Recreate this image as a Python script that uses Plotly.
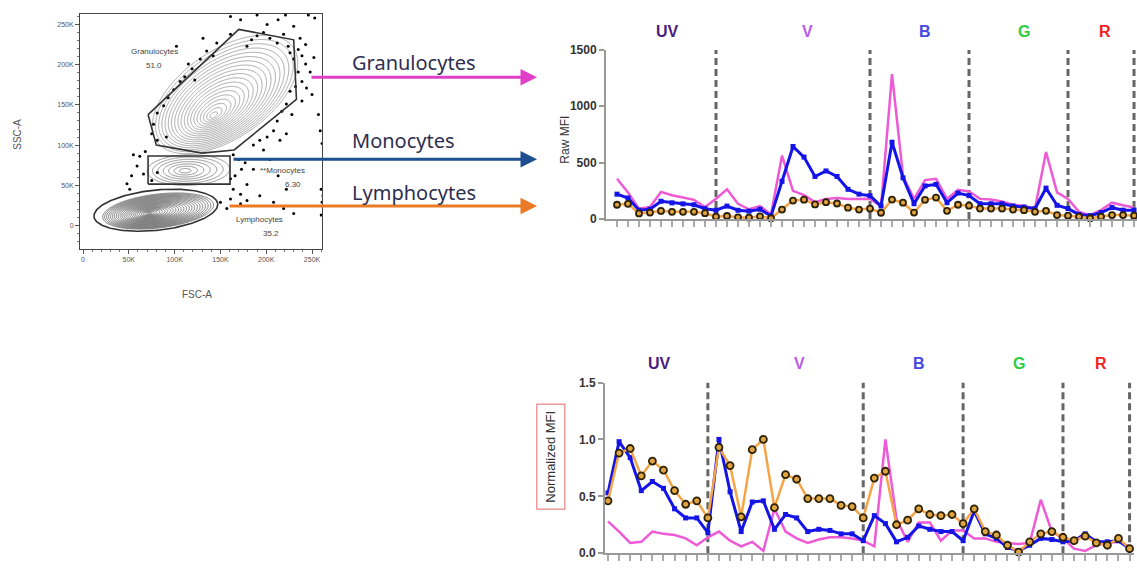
import numpy as np
import plotly.graph_objects as go

# ---------------- line-chart data (48 detector channels) ----------------
channels = list(range(48))
groups = ["UV", "V", "B", "G", "R"]
group_colors = ["#4b1c7d", "#b85ce8", "#4747e6", "#2ecc40", "#ee2222"]
group_bounds = [9, 23, 32, 41, 47]
group_label_x = [4.6, 17.3, 28.0, 37.0, 44.4]

raw_gran = [357, 234, 91, 106, 240, 211, 191, 169, 106, 180,
            263, 134, 86, 114, 40, 563, 249, 211, 149, 177, 186, 177, 177, 180,
            110, 1285, 379, 178, 345, 356, 178, 259, 244,
            178, 172, 155, 126, 115, 92, 595, 236, 178,
            63, 34, 78, 144, 121, 101]
raw_mono = [220, 186, 77, 86, 157, 143, 134, 126, 91, 77,
            114, 77, 69, 86, 26, 334, 643, 549, 377, 426, 377, 263, 220, 206,
            115, 681, 365, 135, 293, 307, 144, 230, 207,
            135, 135, 135, 115, 106, 92, 273, 121, 92,
            40, 29, 57, 101, 78, 78]
raw_lymph = [126, 134, 49, 57, 71, 63, 63, 63, 51, 20,
             26, 14, 11, 23, 6, 83, 163, 171, 129, 149, 137, 100, 83, 92,
             55, 172, 144, 57, 170, 190, 72, 126, 118,
             92, 92, 92, 83, 78, 63, 72, 34, 29,
             20, 6, 20, 34, 34, 29]

norm_gran = [0.28, 0.19, 0.09, 0.10, 0.19, 0.17, 0.16, 0.13, 0.07, 0.14,
             0.19, 0.11, 0.06, 0.10, 0.02, 0.39, 0.19, 0.13, 0.09, 0.12, 0.14, 0.14, 0.13, 0.11,
             0.06, 1.00, 0.30, 0.10, 0.27, 0.27, 0.11, 0.20, 0.20,
             0.13, 0.13, 0.10, 0.09, 0.08, 0.09, 0.47, 0.19, 0.13,
             0.04, 0.02, 0.07, 0.09, 0.10, 0.06]
norm_mono = [0.53, 0.98, 0.84, 0.55, 0.63, 0.57, 0.39, 0.31, 0.31, 0.18,
             1.00, 0.54, 0.19, 0.45, 0.46, 0.21, 0.34, 0.31, 0.19, 0.21, 0.20, 0.17, 0.17, 0.11,
             0.33, 0.26, 0.10, 0.14, 0.24, 0.21, 0.19, 0.19, 0.11,
             0.37, 0.17, 0.13, 0.05, 0.02, 0.07, 0.13, 0.12, 0.10,
             0.11, 0.17, 0.10, 0.10, 0.11, 0.04]
norm_lymph = [0.46, 0.88, 0.92, 0.68, 0.81, 0.73, 0.55, 0.43, 0.46, 0.31,
              0.93, 0.77, 0.32, 0.91, 1.00, 0.40, 0.69, 0.65, 0.48, 0.48, 0.48, 0.42, 0.41, 0.31,
              0.66, 0.72, 0.25, 0.29, 0.39, 0.34, 0.33, 0.34, 0.26,
              0.39, 0.19, 0.16, 0.07, 0.01, 0.10, 0.17, 0.19, 0.14,
              0.11, 0.15, 0.09, 0.07, 0.13, 0.04]

raw_ticks = [0, 500, 1000, 1500]
norm_ticks = [0.0, 0.5, 1.0, 1.5]
norm_ticktext = ["0.0", "0.5", "1.0", "1.5"]

# ---------------- flow-cytometry (FSC-A / SSC-A, in thousands) ----------------
flow_ticks = [0, 50, 100, 150, 200, 250]
flow_ticktext = ["0", "50K", "100K", "150K", "200K", "250K"]

# population contour shapes: inner/outer centre, outer semi-axes, angle, ring count
pop_names = ["Granulocytes", "Monocytes", "Lymphocytes"]
pop_cx_in = [142, 111, 72]
pop_cy_in = [136, 68, 15]
pop_cx_out = [155, 115, 82]
pop_cy_out = [163, 69, 18]
pop_a = [95, 45, 61]
pop_b = [52, 19, 21]
pop_angle = [41, 2, 8]
pop_rings = [19, 7, 24]
pop_color = ["#939393", "#7a7a7a", "#5e5e5e"]

gate_gran_x = [71, 80, 130, 165, 233, 230, 170, 71]
gate_gran_y = [138, 100, 90, 94, 157, 231, 244, 138]
gate_mono_x = [71, 160.5, 160.5, 71, 71]
gate_mono_y = [51.5, 51.5, 86.5, 86.5, 51.5]
gate_lymph = dict(cx=79.5, cy=19, a=68, b=25, angle=7)

event_x = [197, 204, 212, 219, 224, 226, 230, 235, 239, 243, 235, 239, 244, 248, 252, 232, 226, 222,
           217, 212, 228, 239, 250, 243, 237, 230, 213, 201, 190, 184, 179, 172, 161, 190, 221, 246, 253,
           161, 146, 135, 128, 119, 111, 115, 106, 99, 93, 88, 81, 77, 75, 81, 91, 102, 122, 142, 131,
           62, 68, 55, 59, 53, 48, 51, 66, 75, 81, 164, 170, 177, 173, 166, 161, 164, 172, 179, 186,
           197, 204, 161, 150, 157, 172, 179, 193, 208, 219, 230, 222, 213,
           259, 261, 260, 261, 260, 262, 257, 208, 201, 193, 186, 215, 222]
event_y = [240, 233, 227, 238, 223, 215, 207, 219, 211, 201, 191, 179, 171, 191, 209, 173, 167, 151,
           142, 130, 138, 155, 163, 225, 233, 248, 256, 250, 236, 231, 223, 256, 260, 262, 262, 262, 258,
           238, 227, 217, 207, 195, 185, 201, 179, 169, 159, 149, 140, 126, 114, 106, 110, 223, 181, 211, 233,
           86, 92, 88, 74, 62, 52, 45, 64, 56, 66, 88, 82, 78, 70, 62, 58, 45, 39, 51, 70,
           94, 82, 33, 29, 21, 27, 31, 37, 29, 21, 15, 45, 62,
           118, 102, 45, 29, 13, 37, 138, 118, 110, 106, 100, 106, 114]

# ---------------- styles ----------------
PINK, BLUE, ORANGE = "#ee5ad6", "#1414e6", "#f5a447"
FONT = "Liberation Sans, Arial, sans-serif"
W, H = 1137, 568


def px_x(p):
    return p / W


def px_y(p):
    return 1 - p / H


fig = go.Figure()

# ---- flow contours ----
fx = np.arange(-3, 262, 0.8)
fy = np.arange(-29, 264, 0.8)
GX, GY = np.meshgrid(fx, fy)


def ring_level(k):
    t = np.deg2rad(pop_angle[k])
    f = np.ones_like(GX)
    for _ in range(25):
        cx = pop_cx_in[k] + f * (pop_cx_out[k] - pop_cx_in[k])
        cy = pop_cy_in[k] + f * (pop_cy_out[k] - pop_cy_in[k])
        dx, dy = GX - cx, GY - cy
        u = dx * np.cos(t) + dy * np.sin(t)
        v = -dx * np.sin(t) + dy * np.cos(t)
        f = np.sqrt((u / pop_a[k]) ** 2 + (v / pop_b[k]) ** 2)
    return f


for k in range(3):
    step = 1.0 / pop_rings[k]
    fig.add_trace(go.Contour(
        x=fx, y=fy, z=ring_level(k), xaxis="x", yaxis="y",
        contours=dict(start=step, end=1.0 + 1e-6, size=step, coloring="lines"),
        colorscale=[[0, pop_color[k]], [1, pop_color[k]]],
        line=dict(width=0.8), showscale=False, hoverinfo="skip", name=pop_names[k]))

fig.add_trace(go.Scatter(x=event_x, y=event_y, mode="markers", xaxis="x", yaxis="y",
                         marker=dict(color="black", size=3), hoverinfo="skip", showlegend=False))

fig.add_trace(go.Scatter(x=gate_gran_x, y=gate_gran_y, mode="lines", xaxis="x", yaxis="y",
                         line=dict(color="#333", width=1.6), showlegend=False, hoverinfo="skip"))
fig.add_trace(go.Scatter(x=gate_mono_x, y=gate_mono_y, mode="lines", xaxis="x", yaxis="y",
                         line=dict(color="#333", width=1.6), showlegend=False, hoverinfo="skip"))
tt = np.linspace(0, 2 * np.pi, 200)
ga = np.deg2rad(gate_lymph["angle"])
ex = gate_lymph["cx"] + gate_lymph["a"] * np.cos(tt) * np.cos(ga) - gate_lymph["b"] * np.sin(tt) * np.sin(ga)
ey = gate_lymph["cy"] + gate_lymph["a"] * np.cos(tt) * np.sin(ga) + gate_lymph["b"] * np.sin(tt) * np.cos(ga)
fig.add_trace(go.Scatter(x=ex, y=ey, mode="lines", xaxis="x", yaxis="y",
                         line=dict(color="#333", width=1.6), showlegend=False, hoverinfo="skip"))


def add_series(vals, col, width, kind, xa, ya, osize):
    if kind == "line":
        marker = dict(size=1, opacity=0)
        mode = "lines"
    elif kind == "square":
        marker = dict(symbol="square", size=5, color=col)
        mode = "lines+markers"
    else:
        marker = dict(symbol="circle", size=osize, color="#e0a440", line=dict(color="#2e2206", width=1.8))
        mode = "lines+markers"
    fig.add_trace(go.Scatter(x=channels, y=vals, mode=mode, xaxis=xa, yaxis=ya,
                             line=dict(color=col, width=width), marker=marker, cliponaxis=False,
                             showlegend=False))


# ---- top chart: raw MFI ----
add_series(raw_gran, PINK, 2.5, "line", "x2", "y2", 0)
add_series(raw_mono, BLUE, 3, "square", "x2", "y2", 0)
add_series(raw_lymph, ORANGE, 2.5, "circle", "x2", "y2", 6)
# ---- bottom chart: normalized MFI ----
add_series(norm_gran, PINK, 2.5, "line", "x3", "y3", 0)
add_series(norm_mono, BLUE, 3, "square", "x3", "y3", 0)
add_series(norm_lymph, ORANGE, 2.5, "circle", "x3", "y3", 7)

shapes = []
for xr, yr, ytop in [("x2", "y2", 1500), ("x3", "y3", 1.5)]:
    for b in group_bounds:
        shapes.append(dict(type="line", xref=xr, yref=yr, x0=b, x1=b, y0=0, y1=ytop,
                           line=dict(color="#666", width=3, dash="7px,4px"), layer="below"))

annotations = []


def note(**kw):
    kw.setdefault("xanchor", "center")
    kw.setdefault("yanchor", "middle")
    kw.setdefault("showarrow", False)
    annotations.append(kw)


for lbl, col, lx in zip(groups, group_colors, group_label_x):
    note(text=f"<b>{lbl}</b>", x=lx, xref="x2", y=px_y(25), yref="paper",
         font=dict(size=16, color=col, family=FONT))
    note(text=f"<b>{lbl}</b>", x=lx, xref="x3", y=px_y(366), yref="paper",
         font=dict(size=16, color=col, family=FONT))

note(text="Raw MFI", x=px_x(565), y=px_y(136), xref="paper", yref="paper",
     textangle=-90, font=dict(size=12, color="#333", family=FONT))
note(text="Normalized MFI", x=px_x(551), y=px_y(461), xref="paper", yref="paper",
     textangle=-90, bordercolor="#e36a6a", borderwidth=1, borderpad=6,
     font=dict(size=13, color="#333", family=FONT))

# flow axis titles and gate labels
note(text="SSC-A", x=px_x(18), y=px_y(131), xref="paper", yref="paper",
     textangle=-90, font=dict(size=10, color="#555", family=FONT))
note(text="FSC-A", x=px_x(197), y=px_y(295), xref="paper", yref="paper",
     font=dict(size=10, color="#555", family=FONT))
for txt, gx, gy in [("Granulocytes", 77.5, 217), ("51.0", 77.5, 199), ("**Monocytes", 218, 68),
                    ("6.30", 229, 51), ("Lymphocytes", 193, 7), ("35.2", 205, -10)]:
    note(text=txt, x=gx, y=gy, xref="x", yref="y", font=dict(size=8, color="#444", family=FONT))

# arrows and population names
for name, col, y_arrow, x_tail, y_text in [("Granulocytes", "#e23fc9", 72, 310, 57),
                                           ("Monocytes", "#1d4f91", 156, 232, 137),
                                           ("Lymphocytes", "#ea7a24", 204, 228, 190)]:
    note(text="", x=px_x(537), y=px_y(y_arrow), xref="paper", yref="paper",
         showarrow=True, ax=-(537 - x_tail), ay=0, arrowcolor=col, arrowwidth=3,
         arrowhead=2, arrowsize=1.1, standoff=0, startstandoff=0)
    note(text=name, x=px_x(350), y=px_y(y_text), xref="paper", yref="paper", xanchor="left",
         font=dict(size=20, color="#2e2e50", family="Noto Sans, Open Sans, sans-serif"))

flow_axis = dict(showline=True, mirror=True, linecolor="#444", linewidth=1, showgrid=False, zeroline=False,
                 ticks="outside", ticklen=4, tickcolor="#555", tickfont=dict(size=7, color="#555", family=FONT),
                 minor=dict(ticks="outside", ticklen=2, dtick=10, tickcolor="#777"))

tick_font = dict(size=12, color="#333", family=FONT, weight="bold")

fig.update_layout(
    width=W, height=H, margin=dict(l=0, r=0, t=0, b=0),
    paper_bgcolor="white", plot_bgcolor="white", showlegend=False,
    xaxis=dict(domain=[px_x(80), px_x(322)], range=[-3.3, 260.9], anchor="y",
               tickvals=flow_ticks, ticktext=flow_ticktext, **flow_axis),
    yaxis=dict(domain=[px_y(248), px_y(7)], range=[-29.1, 263.3], anchor="x",
               tickvals=flow_ticks, ticktext=flow_ticktext, **flow_axis),
    xaxis2=dict(domain=[px_x(606), 1.0], range=[-1.0, 47.27], anchor="y2",
                tickvals=channels, ticks="outside", ticklen=6, tickwidth=1.5, tickcolor="#aaa",
                showticklabels=False, showline=True, linecolor="#999", linewidth=2,
                showgrid=False, zeroline=False),
    yaxis2=dict(domain=[px_y(217.3), px_y(44)], range=[0, 1500], anchor="x2",
                tickvals=raw_ticks, ticks="outside", ticklen=5, tickwidth=1.5, tickcolor="#999",
                showline=True, linecolor="#999", linewidth=2, showgrid=False, zeroline=False,
                tickfont=tick_font),
    xaxis3=dict(domain=[px_x(605), px_x(1134)], range=[-0.27, 47.4], anchor="y3",
                tickvals=channels, ticks="outside", ticklen=6, tickwidth=1.5, tickcolor="#aaa",
                showticklabels=False, showline=True, linecolor="#999", linewidth=2,
                showgrid=False, zeroline=False),
    yaxis3=dict(domain=[px_y(560), px_y(385)], range=[0, 1.5], anchor="x3",
                tickvals=norm_ticks, ticktext=norm_ticktext, ticks="outside", ticklen=5, tickwidth=1.5,
                tickcolor="#999", showline=True, linecolor="#999", linewidth=2, showgrid=False,
                zeroline=False, tickfont=tick_font),
    shapes=shapes, annotations=annotations,
)

fig.write_html("out.html")
